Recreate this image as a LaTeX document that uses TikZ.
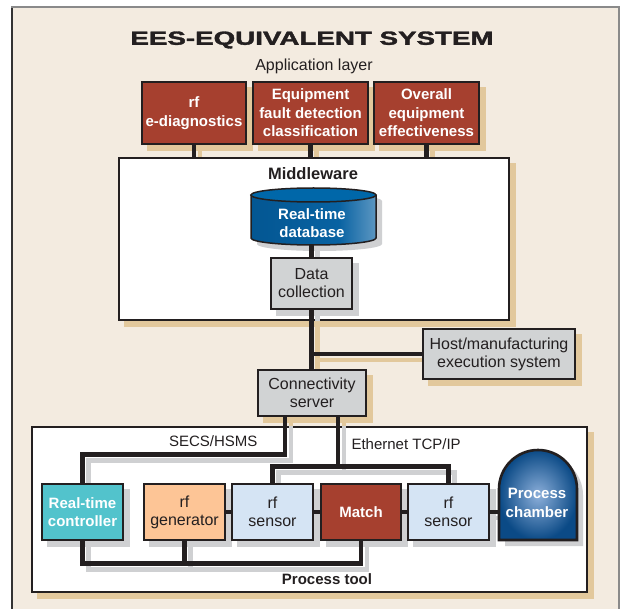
\documentclass[tikz,border=0pt]{standalone}
\usepackage{fontspec}
\setmainfont{Liberation Sans}
\newfontface\titleface{Liberation Sans Bold}[FakeBold=1.6]
\usetikzlibrary{calc}

\definecolor{ink}{HTML}{231F20}
\definecolor{paper}{HTML}{F3EBE0}
\definecolor{tanshade}{HTML}{E2C89C}
\definecolor{grayshade}{HTML}{CFD0D2}
\definecolor{brick}{HTML}{A6402F}
\definecolor{steel}{HTML}{D1D3D4}
\definecolor{rtteal}{HTML}{52C3CC}
\definecolor{peach}{HTML}{FDC596}
\definecolor{ice}{HTML}{D5E4F4}
\definecolor{dbdark}{HTML}{004E87}
\definecolor{dbmid}{HTML}{0862A2}
\definecolor{dblight}{HTML}{E9EFF7}
\definecolor{dbtop}{HTML}{0067A9}
\definecolor{chin}{HTML}{8CAFDA}
\definecolor{chout}{HTML}{0B4A86}
\definecolor{framegray}{HTML}{8A8A8A}
\definecolor{framedark}{HTML}{333333}

\pgfdeclarehorizontalshading{dbshade}{100bp}{color(0bp)=(dbdark); color(60bp)=(dbmid); color(100bp)=(dblight)}

\pgfdeclarelayer{base}
\pgfdeclarelayer{oshad}
\pgfdeclarelayer{panel}
\pgfdeclarelayer{ishad}
\pgfdeclarelayer{wires}
\pgfsetlayers{base,oshad,panel,ishad,wires,main}

\newcommand\boldlabel{\fontsize{15}{18.5}\selectfont\bfseries}
\newcommand\plainlabel{\fontsize{16}{18}\selectfont}

% connectors that stay in the beige area
\newcommand\outerwires{%
  \draw[wire] (diag.south) -- (diag.south |- mw.north);
  \draw[wire] (fdc.south) -- (fdc.south |- mw.north);
  \draw[wire] (oee.south) -- (oee.south |- mw.north);
  \draw[wire] (host.west) -- (host.west -| data.south);
}
% connectors inside (or leading into) the white panels
\newcommand\innerwires{%
  \draw[wire] (data.north) -- (data.north |- db.south);
  \draw[wire] (data.south) -- (data.south |- conn.north);
  \draw[wire] (secs) -- ++(0,37) -| (rtc.north);
  \draw[wire] (ethdrop) -- (ethdrop |- eth);
  \draw[wire] (s1.north) -- (eth) -| (s2.north);
  \draw[wire] (rtc.south) -- (bus) -| (match.south);
  \draw[wire] (gen.south) -- (gen.south |- bus);
  \draw[wire] (gen.east) -- (s1.west);
  \draw[wire] (s1.east) -- (match.west);
  \draw[wire] (match.east) -- (s2.west);
  \draw[wire] (s2.east) -- (s2.east -| ch.west);
}
\newcommand\outershapes{%
  \foreach \n in {diag,fdc,oee,conn,host}
    {\path[shapefill] (\n.south west) rectangle (\n.north east);}
}
\newcommand\innershapes{%
  \foreach \n in {data,rtc,gen,s1,match,s2}
    {\path[shapefill] (\n.south west) rectangle (\n.north east);}
  \path[shapefill] (251,195) -- (251,238)
    arc[start angle=180,end angle=0,x radius=62.5,y radius=7] -- (376,195)
    arc[start angle=0,end angle=-180,x radius=62.5,y radius=7] -- cycle;
  \path[shapefill] (499,540) -- (499,489)
    arc[start angle=180,end angle=360,radius=39] -- (577,540) -- cycle;
}

\begin{document}
\begin{tikzpicture}[x=1pt,y=-1pt,
  wire/.style={draw=ink, line width=4.5pt},
  shapefill/.style={},
  box/.style={draw=ink, line width=2.6pt, inner sep=0pt, align=center, text=ink},
  appbox/.style={box, fill=brick, text=white, minimum height=62, font=\boldlabel},
  graybox/.style={box, fill=steel, font=\plainlabel},
  toolbox/.style={box, minimum width=81, minimum height=56},
  panelbox/.style={draw=ink, line width=2.4pt, fill=white, inner sep=0pt},
  marker/.style={inner sep=0pt, outer sep=0pt}]
\useasboundingbox (0,0) rectangle (623,609);

% paper and frame
\begin{pgfonlayer}{base}
  \fill[white] (0,0) rectangle (623,609);
  \fill[paper] (12,7) rectangle (619,615);
  \draw[framedark, line width=1.4pt] (12,615) -- (12,7);
  \draw[framegray, line width=1.4pt] (11.3,7) -- (619,7) -- (619,615);
\end{pgfonlayer}

% white panels
\begin{pgfonlayer}{panel}
  \node[panelbox, minimum width=390, minimum height=162] (mw) at (314,239) {};
  \node[panelbox, minimum width=555, minimum height=165] (pt) at (309.5,509.5) {};
\end{pgfonlayer}

% titles and labels
\node[font=\titleface\fontsize{19}{19}\selectfont, text=ink] (title) at (312,40)
  {\scalebox{1.46}[1]{EES-EQUIVALENT SYSTEM}};
\node[font=\plainlabel, text=ink] (applayer) at (314,66) {Application layer};
\node[font=\fontsize{16.5}{18}\selectfont\bfseries, text=ink] (mwlabel) at (313,174) {Middleware};
\node[font=\boldlabel, text=ink] (ptlabel) at (327,579) {Process tool};
\node[font=\fontsize{15}{18}\selectfont, text=ink, anchor=east] (secslabel) at (261,441) {SECS/HSMS};
\node[font=\fontsize{15}{18}\selectfont, text=ink, anchor=west] (ethlabel) at (348,444) {Ethernet TCP/IP};

% application layer
\node[appbox, minimum width=104] (diag) at (194,113) {rf\\e-diagnostics};
\node[appbox, minimum width=115] (fdc) at (310.5,113) {Equipment\\fault detection\\classification};
\node[appbox, minimum width=105] (oee) at (426.5,113) {Overall\\equipment\\effectiveness};

% middleware: real-time database and data collection
\path[shading=dbshade, draw=ink, line width=1.5pt] (251,195) -- (251,238)
  arc[start angle=180,end angle=0,x radius=62.5,y radius=7] -- (376,195);
\draw[fill=dbtop, draw=ink, line width=1.5pt] (313.5,195) ellipse[x radius=62.5, y radius=7];
\node[marker, minimum width=125, minimum height=57] (db) at (313.5,216.5) {};
\node[font=\boldlabel, text=white, align=center] (dblabel) at (312,223) {Real-time\\database};
\node[graybox, minimum width=81, minimum height=51] (data) at (311.5,283.5) {Data\\collection};

% connectivity
\node[graybox, minimum width=108, minimum height=46] (conn) at (312,393) {Connectivity\\server};
\node[graybox, minimum width=152, minimum height=50] (host) at (499,354) {Host/manufacturing\\execution system};

% process tool
\node[toolbox, fill=rtteal, text=white, font=\boldlabel] (rtc) at (82.5,512) {Real-time\\controller};
\node[toolbox, fill=peach, font=\plainlabel] (gen) at (184.5,512) {rf\\generator};
\node[toolbox, fill=ice, font=\plainlabel] (s1) at (272.5,512) {rf\\sensor};
\node[toolbox, minimum width=80, fill=brick, text=white, font=\boldlabel] (match) at (361,512) {Match};
\node[toolbox, fill=ice, font=\plainlabel] (s2) at (448.5,512) {rf\\sensor};
\path[draw=ink, line width=2.6pt, inner color=chin, outer color=chout]
  (499,540) -- (499,489) arc[start angle=180,end angle=360,radius=39] -- (577,540) -- cycle;
\node[marker, minimum width=78, minimum height=90] (ch) at (538,495) {};
\node[font=\boldlabel, text=white, align=center] (chlabel) at (537,503) {Process\\chamber};

% bend points of the buses
\coordinate (secs) at ([xshift=-27pt]conn.south);
\coordinate (ethdrop) at ([xshift=26pt]conn.south);
\coordinate (eth) at ($(s1.north)+(0,-16)$);
\coordinate (bus) at ($(rtc.south)+(0,22)$);

% tan drop shadows on the paper
\begin{pgfonlayer}{oshad}
  \begin{scope}[transform canvas={shift={(6pt,-6pt)}},
      wire/.style={draw=tanshade, line width=4.5pt},
      shapefill/.style={fill=tanshade}]
    \fill[tanshade] (mw.north west) rectangle (mw.south east);
    \fill[tanshade] (pt.north west) rectangle (pt.south east);
    \outershapes
    \outerwires
    \innerwires
  \end{scope}
\end{pgfonlayer}

% gray drop shadows inside the panels
\begin{pgfonlayer}{ishad}
  \begin{scope}
    \clip (mw.north west) rectangle (mw.south east)
          (pt.north west) rectangle (pt.south east);
    \begin{scope}[transform canvas={shift={(6pt,-6pt)}},
        wire/.style={draw=grayshade, line width=4.5pt},
        shapefill/.style={fill=grayshade}]
      \innershapes
      \innerwires
    \end{scope}
  \end{scope}
\end{pgfonlayer}

% connectors
\begin{pgfonlayer}{wires}
  \outerwires
  \innerwires
\end{pgfonlayer}
\end{tikzpicture}
\end{document}
